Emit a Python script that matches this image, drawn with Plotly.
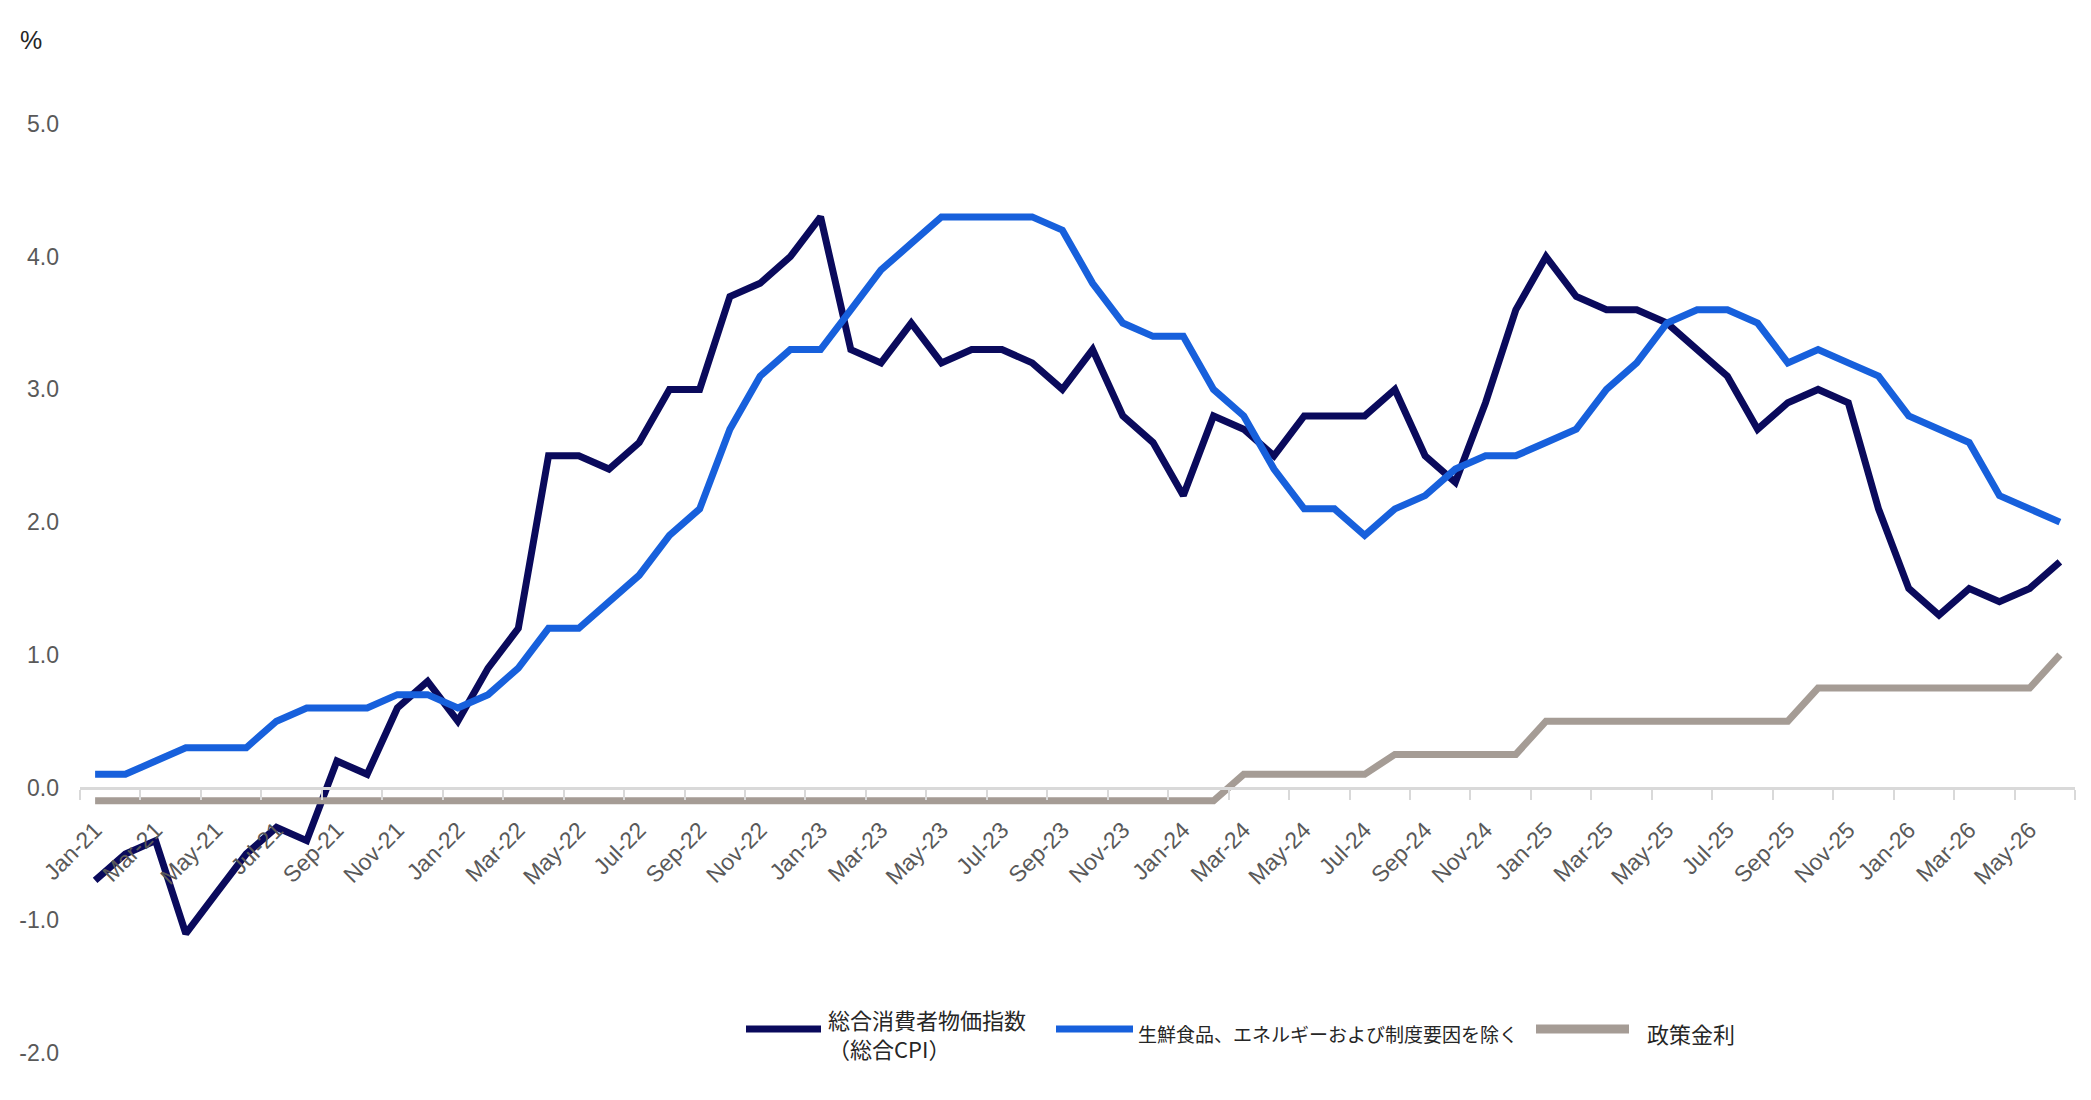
import plotly.graph_objects as go
import pandas as pd

# monthly categories Jan-21 .. Jun-26
months = pd.date_range("2021-01-01", "2026-06-01", freq="MS").strftime("%b-%y").tolist()

headline_cpi = [
    -0.7, -0.5, -0.4, -1.1, -0.8, -0.5, -0.3, -0.4, 0.2, 0.1, 0.6, 0.8,
    0.5, 0.9, 1.2, 2.5, 2.5, 2.4, 2.6, 3.0, 3.0, 3.7, 3.8, 4.0,
    4.3, 3.3, 3.2, 3.5, 3.2, 3.3, 3.3, 3.2, 3.0, 3.3, 2.8, 2.6,
    2.2, 2.8, 2.7, 2.5, 2.8, 2.8, 2.8, 3.0, 2.5, 2.3, 2.9, 3.6,
    4.0, 3.7, 3.6, 3.6, 3.5, 3.3, 3.1, 2.7, 2.9, 3.0, 2.9, 2.1,
    1.5, 1.3, 1.5, 1.4, 1.5, 1.7,
]
core_cpi = [
    0.1, 0.1, 0.2, 0.3, 0.3, 0.3, 0.5, 0.6, 0.6, 0.6, 0.7, 0.7,
    0.6, 0.7, 0.9, 1.2, 1.2, 1.4, 1.6, 1.9, 2.1, 2.7, 3.1, 3.3,
    3.3, 3.6, 3.9, 4.1, 4.3, 4.3, 4.3, 4.3, 4.2, 3.8, 3.5, 3.4,
    3.4, 3.0, 2.8, 2.4, 2.1, 2.1, 1.9, 2.1, 2.2, 2.4, 2.5, 2.5,
    2.6, 2.7, 3.0, 3.2, 3.5, 3.6, 3.6, 3.5, 3.2, 3.3, 3.2, 3.1,
    2.8, 2.7, 2.6, 2.2, 2.1, 2.0,
]
policy_rate = [
    -0.1, -0.1, -0.1, -0.1, -0.1, -0.1, -0.1, -0.1, -0.1, -0.1, -0.1, -0.1,
    -0.1, -0.1, -0.1, -0.1, -0.1, -0.1, -0.1, -0.1, -0.1, -0.1, -0.1, -0.1,
    -0.1, -0.1, -0.1, -0.1, -0.1, -0.1, -0.1, -0.1, -0.1, -0.1, -0.1, -0.1,
    -0.1, -0.1, 0.1, 0.1, 0.1, 0.1, 0.1, 0.25, 0.25, 0.25, 0.25, 0.25,
    0.5, 0.5, 0.5, 0.5, 0.5, 0.5, 0.5, 0.5, 0.5, 0.75, 0.75, 0.75,
    0.75, 0.75, 0.75, 0.75, 0.75, 1.0,
]

series_names = ["総合消費者物価指数<br>（総合CPI）", "生鮮食品、エネルギーおよび制度要因を除く", "政策金利"]
series_colors = ["#0a0a5c", "#1760dc", "#a59c95"]

y_ticks = [-2, -1, 0, 1, 2, 3, 4, 5]
y_tick_labels = ["-2.0", "-1.0", "0.0", "1.0", "2.0", "3.0", "4.0", "5.0"]
y_min, y_max = -2, 5

W, H = 2091, 1100
OFF = 8  # page body margin the figure sits inside
ml, mr, mt, mb = 72, 24, 116, 55
pw, ph = W - ml - mr, H - mt - mb


def px_to_paper(x, y):
    # x, y are page pixels
    return (x - OFF - ml) / pw, (H - mb - (y - OFF)) / ph


fig = go.Figure()
for vals, name, col in zip([headline_cpi, core_cpi, policy_rate], series_names, series_colors):
    fig.add_trace(go.Scatter(
        x=months, y=vals, name=name, mode="lines",
        line=dict(color=col, width=7), showlegend=False,
    ))

# hand-made legend so the swatches can be long like the original
legend_items = [(746, 821, 826, 22), (1056, 1133, 1136, 19), (1536, 1629, 1645, 22)]
for (x0, x1, xt, fs), name, col in zip(legend_items, series_names, series_colors):
    a0, b0 = px_to_paper(x0, 1029)
    a1, _ = px_to_paper(x1, 1029)
    fig.add_shape(type="line", xref="paper", yref="paper", x0=a0, x1=a1, y0=b0, y1=b0,
                  line=dict(color=col, width=9 if col == series_colors[2] else 7))
    at, bt = px_to_paper(xt, 1033)
    fig.add_annotation(text=name, xref="paper", yref="paper", x=at, y=bt,
                       xanchor="left", yanchor="middle", align="left", showarrow=False,
                       font=dict(family="Noto Sans CJK JP", size=fs, color="#262626"))

pa, pb = px_to_paper(18, 40)
fig.add_annotation(text="%", xref="paper", yref="paper", x=pa, y=pb, xanchor="left",
                   yanchor="middle", showarrow=False,
                   font=dict(family="Liberation Sans, Arial", size=25, color="#262626"))

fig.update_layout(
    width=W, height=H,
    margin=dict(l=ml, r=mr, t=mt, b=mb),
    paper_bgcolor="white", plot_bgcolor="white",
    font=dict(family="Liberation Sans, Arial", color="#595959"),
    xaxis=dict(
        type="category", range=[-0.5, len(months) - 0.5],
        anchor="free", position=(0 - y_min) / (y_max - y_min),
        tickmode="linear", tick0=0, dtick=2, tickson="boundaries",
        tickangle=-45, tickfont=dict(size=23, color="#595959"), ticklabelstandoff=18,
        showline=True, linecolor="#d9d9d9", linewidth=3,
        ticks="outside", ticklen=10, tickwidth=2, tickcolor="#d9d9d9",
        showgrid=False, zeroline=False,
    ),
    yaxis=dict(
        range=[y_min, y_max], tickmode="array", tickvals=y_ticks, ticktext=y_tick_labels,
        tickfont=dict(size=23, color="#595959"), ticklabelstandoff=20,
        showgrid=False, zeroline=False, showline=False, ticks="",
    ),
)

fig.write_html("out.html")
